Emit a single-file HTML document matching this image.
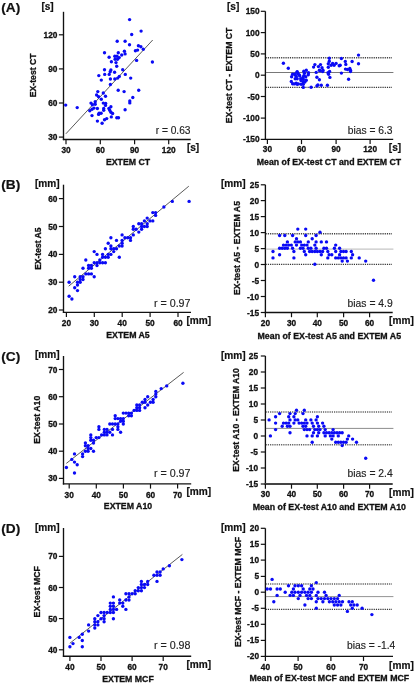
<!DOCTYPE html>
<html><head><meta charset="utf-8"><title>Figure</title>
<style>
html,body{margin:0;padding:0;background:#fff;}
svg{display:block;font-family:"Liberation Sans", Arial, sans-serif;}
</style></head><body>
<svg width="415" height="685" viewBox="0 0 415 685">
<rect width="415" height="685" fill="#fff"/>
<line x1="63.5" y1="11.8" x2="63.5" y2="140.15" stroke="#111" stroke-width="1.35"/>
<line x1="62.85" y1="139.5" x2="190.7" y2="139.5" stroke="#111" stroke-width="1.35"/>
<line x1="58.9" y1="34.8" x2="63.5" y2="34.8" stroke="#111" stroke-width="1.2"/>
<text x="57.4" y="37.8" font-size="8.3" font-weight="bold" text-anchor="end" fill="#111" stroke="#111" stroke-width="0.3">120</text>
<line x1="58.9" y1="68.9" x2="63.5" y2="68.9" stroke="#111" stroke-width="1.2"/>
<text x="57.4" y="71.9" font-size="8.3" font-weight="bold" text-anchor="end" fill="#111" stroke="#111" stroke-width="0.3">90</text>
<line x1="58.9" y1="103.0" x2="63.5" y2="103.0" stroke="#111" stroke-width="1.2"/>
<text x="57.4" y="106.0" font-size="8.3" font-weight="bold" text-anchor="end" fill="#111" stroke="#111" stroke-width="0.3">60</text>
<line x1="58.9" y1="137.1" x2="63.5" y2="137.1" stroke="#111" stroke-width="1.2"/>
<text x="57.4" y="140.1" font-size="8.3" font-weight="bold" text-anchor="end" fill="#111" stroke="#111" stroke-width="0.3">30</text>
<line x1="66.0" y1="139.5" x2="66.0" y2="144.2" stroke="#111" stroke-width="1.2"/>
<text x="66.0" y="152.5" font-size="8.3" font-weight="bold" text-anchor="middle" fill="#111" stroke="#111" stroke-width="0.3">30</text>
<line x1="100.3" y1="139.5" x2="100.3" y2="144.2" stroke="#111" stroke-width="1.2"/>
<text x="100.3" y="152.5" font-size="8.3" font-weight="bold" text-anchor="middle" fill="#111" stroke="#111" stroke-width="0.3">60</text>
<line x1="134.6" y1="139.5" x2="134.6" y2="144.2" stroke="#111" stroke-width="1.2"/>
<text x="134.6" y="152.5" font-size="8.3" font-weight="bold" text-anchor="middle" fill="#111" stroke="#111" stroke-width="0.3">90</text>
<line x1="168.7" y1="139.5" x2="168.7" y2="144.2" stroke="#111" stroke-width="1.2"/>
<text x="168.7" y="152.5" font-size="8.3" font-weight="bold" text-anchor="middle" fill="#111" stroke="#111" stroke-width="0.3">120</text>
<line x1="65.9" y1="133.8" x2="152.7" y2="40.0" stroke="#222" stroke-width="0.75"/>
<circle cx="129.6" cy="19.6" r="1.68" fill="#0a0af5"/>
<circle cx="131.7" cy="34.5" r="1.68" fill="#0a0af5"/>
<circle cx="117.2" cy="41.2" r="1.68" fill="#0a0af5"/>
<circle cx="125.1" cy="41.2" r="1.68" fill="#0a0af5"/>
<circle cx="129.5" cy="44.7" r="1.68" fill="#0a0af5"/>
<circle cx="104.5" cy="52.8" r="1.68" fill="#0a0af5"/>
<circle cx="118.3" cy="52.8" r="1.68" fill="#0a0af5"/>
<circle cx="124.4" cy="51.3" r="1.68" fill="#0a0af5"/>
<circle cx="125.1" cy="53.9" r="1.68" fill="#0a0af5"/>
<circle cx="121.7" cy="55.0" r="1.68" fill="#0a0af5"/>
<circle cx="109.1" cy="57.2" r="1.68" fill="#0a0af5"/>
<circle cx="114.8" cy="56.2" r="1.68" fill="#0a0af5"/>
<circle cx="117.0" cy="56.2" r="1.68" fill="#0a0af5"/>
<circle cx="119.2" cy="57.6" r="1.68" fill="#0a0af5"/>
<circle cx="117.5" cy="59.3" r="1.68" fill="#0a0af5"/>
<circle cx="115.1" cy="59.3" r="1.68" fill="#0a0af5"/>
<circle cx="111.4" cy="61.8" r="1.68" fill="#0a0af5"/>
<circle cx="116.0" cy="62.6" r="1.68" fill="#0a0af5"/>
<circle cx="116.7" cy="66.2" r="1.68" fill="#0a0af5"/>
<circle cx="141.1" cy="31.1" r="1.68" fill="#0a0af5"/>
<circle cx="138.4" cy="45.8" r="1.68" fill="#0a0af5"/>
<circle cx="140.9" cy="46.8" r="1.68" fill="#0a0af5"/>
<circle cx="143.3" cy="49.3" r="1.68" fill="#0a0af5"/>
<circle cx="135.4" cy="50.8" r="1.68" fill="#0a0af5"/>
<circle cx="137.6" cy="50.1" r="1.68" fill="#0a0af5"/>
<circle cx="136.6" cy="60.4" r="1.68" fill="#0a0af5"/>
<circle cx="152.4" cy="62.0" r="1.68" fill="#0a0af5"/>
<circle cx="104.5" cy="69.7" r="1.68" fill="#0a0af5"/>
<circle cx="110.9" cy="70.0" r="1.68" fill="#0a0af5"/>
<circle cx="110.2" cy="71.7" r="1.68" fill="#0a0af5"/>
<circle cx="122.7" cy="69.7" r="1.68" fill="#0a0af5"/>
<circle cx="114.6" cy="72.2" r="1.68" fill="#0a0af5"/>
<circle cx="104.7" cy="74.4" r="1.68" fill="#0a0af5"/>
<circle cx="109.2" cy="74.4" r="1.68" fill="#0a0af5"/>
<circle cx="98.8" cy="75.6" r="1.68" fill="#0a0af5"/>
<circle cx="125.3" cy="74.4" r="1.68" fill="#0a0af5"/>
<circle cx="119.3" cy="76.4" r="1.68" fill="#0a0af5"/>
<circle cx="117.7" cy="78.1" r="1.68" fill="#0a0af5"/>
<circle cx="110.4" cy="79.0" r="1.68" fill="#0a0af5"/>
<circle cx="114.8" cy="79.0" r="1.68" fill="#0a0af5"/>
<circle cx="101.3" cy="80.1" r="1.68" fill="#0a0af5"/>
<circle cx="130.7" cy="78.1" r="1.68" fill="#0a0af5"/>
<circle cx="110.4" cy="84.5" r="1.68" fill="#0a0af5"/>
<circle cx="118.2" cy="90.3" r="1.68" fill="#0a0af5"/>
<circle cx="124.1" cy="91.6" r="1.68" fill="#0a0af5"/>
<circle cx="97.8" cy="91.6" r="1.68" fill="#0a0af5"/>
<circle cx="103.3" cy="93.0" r="1.68" fill="#0a0af5"/>
<circle cx="96.6" cy="95.0" r="1.68" fill="#0a0af5"/>
<circle cx="98.6" cy="96.7" r="1.68" fill="#0a0af5"/>
<circle cx="105.5" cy="96.2" r="1.68" fill="#0a0af5"/>
<circle cx="101.3" cy="99.2" r="1.68" fill="#0a0af5"/>
<circle cx="129.8" cy="100.9" r="1.68" fill="#0a0af5"/>
<circle cx="129.8" cy="102.9" r="1.68" fill="#0a0af5"/>
<circle cx="95.2" cy="101.7" r="1.68" fill="#0a0af5"/>
<circle cx="91.0" cy="103.1" r="1.68" fill="#0a0af5"/>
<circle cx="92.4" cy="104.8" r="1.68" fill="#0a0af5"/>
<circle cx="95.2" cy="104.3" r="1.68" fill="#0a0af5"/>
<circle cx="103.3" cy="103.1" r="1.68" fill="#0a0af5"/>
<circle cx="105.7" cy="103.4" r="1.68" fill="#0a0af5"/>
<circle cx="105.5" cy="105.4" r="1.68" fill="#0a0af5"/>
<circle cx="65.7" cy="105.1" r="1.68" fill="#0a0af5"/>
<circle cx="77.2" cy="107.6" r="1.68" fill="#0a0af5"/>
<circle cx="110.9" cy="106.8" r="1.68" fill="#0a0af5"/>
<circle cx="108.9" cy="108.5" r="1.68" fill="#0a0af5"/>
<circle cx="109.7" cy="110.2" r="1.68" fill="#0a0af5"/>
<circle cx="103.7" cy="108.5" r="1.68" fill="#0a0af5"/>
<circle cx="103.7" cy="110.2" r="1.68" fill="#0a0af5"/>
<circle cx="125.1" cy="109.7" r="1.68" fill="#0a0af5"/>
<circle cx="94.0" cy="108.1" r="1.68" fill="#0a0af5"/>
<circle cx="97.4" cy="108.5" r="1.68" fill="#0a0af5"/>
<circle cx="92.0" cy="109.3" r="1.68" fill="#0a0af5"/>
<circle cx="89.8" cy="110.7" r="1.68" fill="#0a0af5"/>
<circle cx="110.9" cy="112.2" r="1.68" fill="#0a0af5"/>
<circle cx="112.6" cy="113.5" r="1.68" fill="#0a0af5"/>
<circle cx="99.1" cy="113.2" r="1.68" fill="#0a0af5"/>
<circle cx="101.1" cy="113.2" r="1.68" fill="#0a0af5"/>
<circle cx="98.6" cy="114.4" r="1.68" fill="#0a0af5"/>
<circle cx="92.0" cy="115.6" r="1.68" fill="#0a0af5"/>
<circle cx="111.3" cy="116.9" r="1.68" fill="#0a0af5"/>
<circle cx="116.8" cy="117.8" r="1.68" fill="#0a0af5"/>
<circle cx="118.5" cy="117.8" r="1.68" fill="#0a0af5"/>
<circle cx="106.7" cy="118.6" r="1.68" fill="#0a0af5"/>
<circle cx="104.5" cy="119.8" r="1.68" fill="#0a0af5"/>
<circle cx="97.4" cy="121.1" r="1.68" fill="#0a0af5"/>
<circle cx="102.1" cy="123.3" r="1.68" fill="#0a0af5"/>
<circle cx="138.7" cy="90.3" r="1.68" fill="#0a0af5"/>
<circle cx="132.8" cy="97.5" r="1.68" fill="#0a0af5"/>
<text x="36.3" y="75.3" font-size="8.7" font-weight="bold" text-anchor="middle" fill="#111" stroke="#111" stroke-width="0.3" transform="rotate(-90 36.3 75.3)">EX-test CT</text>
<text x="128" y="164.6" font-size="8.75" font-weight="bold" text-anchor="middle" fill="#111" stroke="#111" stroke-width="0.3">EXTEM CT</text>
<text x="41.4" y="9.8" font-size="10.1" font-weight="bold" text-anchor="start" fill="#111" stroke="#111" stroke-width="0.2">[s]</text>
<text x="186.9" y="150.8" font-size="10.1" font-weight="bold" text-anchor="start" fill="#111" stroke="#111" stroke-width="0.2">[s]</text>
<text x="190.5" y="133.8" font-size="10.2" font-weight="normal" text-anchor="end" fill="#222" stroke="#222" stroke-width="0.15">r = 0.63</text>
<text x="1.2" y="12.2" font-size="13.7" font-weight="bold" text-anchor="start" fill="#111" stroke="#111" stroke-width="0.2">(A)</text>
<line x1="265.4" y1="11.3" x2="265.4" y2="140.05" stroke="#111" stroke-width="1.35"/>
<line x1="264.75" y1="139.4" x2="393.2" y2="139.4" stroke="#111" stroke-width="1.35"/>
<line x1="260.79999999999995" y1="11.3" x2="265.4" y2="11.3" stroke="#111" stroke-width="1.2"/>
<text x="259.5" y="14.3" font-size="8.3" font-weight="bold" text-anchor="end" fill="#111" stroke="#111" stroke-width="0.3">150</text>
<line x1="260.79999999999995" y1="32.6" x2="265.4" y2="32.6" stroke="#111" stroke-width="1.2"/>
<text x="259.5" y="35.6" font-size="8.3" font-weight="bold" text-anchor="end" fill="#111" stroke="#111" stroke-width="0.3">100</text>
<line x1="260.79999999999995" y1="53.9" x2="265.4" y2="53.9" stroke="#111" stroke-width="1.2"/>
<text x="259.5" y="56.9" font-size="8.3" font-weight="bold" text-anchor="end" fill="#111" stroke="#111" stroke-width="0.3">50</text>
<line x1="260.79999999999995" y1="75.2" x2="265.4" y2="75.2" stroke="#111" stroke-width="1.2"/>
<text x="259.5" y="78.2" font-size="8.3" font-weight="bold" text-anchor="end" fill="#111" stroke="#111" stroke-width="0.3">0</text>
<line x1="260.79999999999995" y1="96.5" x2="265.4" y2="96.5" stroke="#111" stroke-width="1.2"/>
<text x="259.5" y="99.5" font-size="8.3" font-weight="bold" text-anchor="end" fill="#111" stroke="#111" stroke-width="0.3">-50</text>
<line x1="260.79999999999995" y1="118.1" x2="265.4" y2="118.1" stroke="#111" stroke-width="1.2"/>
<text x="259.5" y="121.1" font-size="8.3" font-weight="bold" text-anchor="end" fill="#111" stroke="#111" stroke-width="0.3">-100</text>
<line x1="260.79999999999995" y1="139.4" x2="265.4" y2="139.4" stroke="#111" stroke-width="1.2"/>
<text x="259.5" y="142.4" font-size="8.3" font-weight="bold" text-anchor="end" fill="#111" stroke="#111" stroke-width="0.3">-150</text>
<line x1="267.4" y1="139.4" x2="267.4" y2="144.1" stroke="#111" stroke-width="1.2"/>
<text x="267.4" y="152.4" font-size="8.3" font-weight="bold" text-anchor="middle" fill="#111" stroke="#111" stroke-width="0.3">30</text>
<line x1="301.5" y1="139.4" x2="301.5" y2="144.1" stroke="#111" stroke-width="1.2"/>
<text x="301.5" y="152.4" font-size="8.3" font-weight="bold" text-anchor="middle" fill="#111" stroke="#111" stroke-width="0.3">60</text>
<line x1="336.1" y1="139.4" x2="336.1" y2="144.1" stroke="#111" stroke-width="1.2"/>
<text x="336.1" y="152.4" font-size="8.3" font-weight="bold" text-anchor="middle" fill="#111" stroke="#111" stroke-width="0.3">90</text>
<line x1="370.1" y1="139.4" x2="370.1" y2="144.1" stroke="#111" stroke-width="1.2"/>
<text x="370.1" y="152.4" font-size="8.3" font-weight="bold" text-anchor="middle" fill="#111" stroke="#111" stroke-width="0.3">120</text>
<line x1="266.29999999999995" y1="57.7" x2="392.2" y2="57.7" stroke="#222" stroke-width="1.6" stroke-dasharray="0.85 0.98"/>
<line x1="265.9" y1="72.5" x2="393.4" y2="72.5" stroke="#555" stroke-width="0.8"/>
<line x1="266.29999999999995" y1="87.4" x2="392.2" y2="87.4" stroke="#111" stroke-width="1.1" stroke-dasharray="0.85 0.98"/>
<circle cx="283.4" cy="63.3" r="1.68" fill="#0a0af5"/>
<circle cx="288.3" cy="68.3" r="1.68" fill="#0a0af5"/>
<circle cx="314.9" cy="64.6" r="1.68" fill="#0a0af5"/>
<circle cx="320.5" cy="64.6" r="1.68" fill="#0a0af5"/>
<circle cx="313.6" cy="67.1" r="1.68" fill="#0a0af5"/>
<circle cx="318.4" cy="66.6" r="1.68" fill="#0a0af5"/>
<circle cx="322.0" cy="67.7" r="1.68" fill="#0a0af5"/>
<circle cx="319.4" cy="70.2" r="1.68" fill="#0a0af5"/>
<circle cx="323.0" cy="70.2" r="1.68" fill="#0a0af5"/>
<circle cx="316.2" cy="72.4" r="1.68" fill="#0a0af5"/>
<circle cx="306.3" cy="70.2" r="1.68" fill="#0a0af5"/>
<circle cx="303.8" cy="71.2" r="1.68" fill="#0a0af5"/>
<circle cx="297.2" cy="71.7" r="1.68" fill="#0a0af5"/>
<circle cx="308.5" cy="72.7" r="1.68" fill="#0a0af5"/>
<circle cx="308.3" cy="74.7" r="1.68" fill="#0a0af5"/>
<circle cx="304.5" cy="73.2" r="1.68" fill="#0a0af5"/>
<circle cx="298.2" cy="73.7" r="1.68" fill="#0a0af5"/>
<circle cx="292.6" cy="74.2" r="1.68" fill="#0a0af5"/>
<circle cx="295.2" cy="74.7" r="1.68" fill="#0a0af5"/>
<circle cx="291.6" cy="76.8" r="1.68" fill="#0a0af5"/>
<circle cx="296.2" cy="76.3" r="1.68" fill="#0a0af5"/>
<circle cx="299.7" cy="75.7" r="1.68" fill="#0a0af5"/>
<circle cx="303.8" cy="75.7" r="1.68" fill="#0a0af5"/>
<circle cx="305.8" cy="76.8" r="1.68" fill="#0a0af5"/>
<circle cx="295.2" cy="78.8" r="1.68" fill="#0a0af5"/>
<circle cx="297.2" cy="78.8" r="1.68" fill="#0a0af5"/>
<circle cx="300.7" cy="78.8" r="1.68" fill="#0a0af5"/>
<circle cx="303.3" cy="79.3" r="1.68" fill="#0a0af5"/>
<circle cx="306.3" cy="80.3" r="1.68" fill="#0a0af5"/>
<circle cx="316.9" cy="77.3" r="1.68" fill="#0a0af5"/>
<circle cx="319.4" cy="79.8" r="1.68" fill="#0a0af5"/>
<circle cx="291.3" cy="81.5" r="1.68" fill="#0a0af5"/>
<circle cx="303.3" cy="81.8" r="1.68" fill="#0a0af5"/>
<circle cx="292.6" cy="83.8" r="1.68" fill="#0a0af5"/>
<circle cx="296.2" cy="83.3" r="1.68" fill="#0a0af5"/>
<circle cx="297.2" cy="84.3" r="1.68" fill="#0a0af5"/>
<circle cx="301.2" cy="84.3" r="1.68" fill="#0a0af5"/>
<circle cx="303.3" cy="84.3" r="1.68" fill="#0a0af5"/>
<circle cx="303.3" cy="87.4" r="1.68" fill="#0a0af5"/>
<circle cx="311.1" cy="87.2" r="1.68" fill="#0a0af5"/>
<circle cx="316.9" cy="85.9" r="1.68" fill="#0a0af5"/>
<circle cx="317.9" cy="84.9" r="1.68" fill="#0a0af5"/>
<circle cx="321.3" cy="85.2" r="1.68" fill="#0a0af5"/>
<circle cx="358.5" cy="55.1" r="1.68" fill="#0a0af5"/>
<circle cx="329.3" cy="58.2" r="1.68" fill="#0a0af5"/>
<circle cx="341.4" cy="58.5" r="1.68" fill="#0a0af5"/>
<circle cx="329.3" cy="61.2" r="1.68" fill="#0a0af5"/>
<circle cx="345.3" cy="61.4" r="1.68" fill="#0a0af5"/>
<circle cx="352.1" cy="61.5" r="1.68" fill="#0a0af5"/>
<circle cx="358.5" cy="63.7" r="1.68" fill="#0a0af5"/>
<circle cx="328.3" cy="63.7" r="1.68" fill="#0a0af5"/>
<circle cx="332.6" cy="63.4" r="1.68" fill="#0a0af5"/>
<circle cx="336.1" cy="63.4" r="1.68" fill="#0a0af5"/>
<circle cx="331.1" cy="65.2" r="1.68" fill="#0a0af5"/>
<circle cx="334.1" cy="65.2" r="1.68" fill="#0a0af5"/>
<circle cx="339.2" cy="65.7" r="1.68" fill="#0a0af5"/>
<circle cx="340.2" cy="65.2" r="1.68" fill="#0a0af5"/>
<circle cx="345.8" cy="64.4" r="1.68" fill="#0a0af5"/>
<circle cx="328.3" cy="67.3" r="1.68" fill="#0a0af5"/>
<circle cx="345.5" cy="69.1" r="1.68" fill="#0a0af5"/>
<circle cx="347.5" cy="69.5" r="1.68" fill="#0a0af5"/>
<circle cx="349.8" cy="68.5" r="1.68" fill="#0a0af5"/>
<circle cx="350.5" cy="70.3" r="1.68" fill="#0a0af5"/>
<circle cx="350.5" cy="71.5" r="1.68" fill="#0a0af5"/>
<circle cx="329.6" cy="71.5" r="1.68" fill="#0a0af5"/>
<circle cx="328.0" cy="72.8" r="1.68" fill="#0a0af5"/>
<circle cx="341.4" cy="73.1" r="1.68" fill="#0a0af5"/>
<circle cx="328.6" cy="74.3" r="1.68" fill="#0a0af5"/>
<circle cx="329.9" cy="77.4" r="1.68" fill="#0a0af5"/>
<circle cx="348.6" cy="79.2" r="1.68" fill="#0a0af5"/>
<circle cx="327.4" cy="85.2" r="1.68" fill="#0a0af5"/>
<circle cx="294.5" cy="74.1" r="1.68" fill="#0a0af5"/>
<circle cx="299.3" cy="75" r="1.68" fill="#0a0af5"/>
<circle cx="302.9" cy="77.5" r="1.68" fill="#0a0af5"/>
<circle cx="304.9" cy="82" r="1.68" fill="#0a0af5"/>
<circle cx="294.3" cy="83.9" r="1.68" fill="#0a0af5"/>
<circle cx="298.4" cy="83.9" r="1.68" fill="#0a0af5"/>
<circle cx="320.1" cy="70.7" r="1.68" fill="#0a0af5"/>
<circle cx="322.7" cy="71.5" r="1.68" fill="#0a0af5"/>
<circle cx="297" cy="72.3" r="1.68" fill="#0a0af5"/>
<circle cx="301" cy="80.5" r="1.68" fill="#0a0af5"/>
<text x="232.1" y="75.4" font-size="8.7" font-weight="bold" text-anchor="middle" fill="#111" stroke="#111" stroke-width="0.3" transform="rotate(-90 232.1 75.4)">EX-test CT - EXTEM CT</text>
<text x="329" y="164.6" font-size="8.75" font-weight="bold" text-anchor="middle" fill="#111" stroke="#111" stroke-width="0.3">Mean of EX-test CT and EXTEM CT</text>
<text x="227" y="9.8" font-size="10.1" font-weight="bold" text-anchor="start" fill="#111" stroke="#111" stroke-width="0.2">[s]</text>
<text x="388.8" y="150.8" font-size="10.1" font-weight="bold" text-anchor="start" fill="#111" stroke="#111" stroke-width="0.2">[s]</text>
<text x="392.5" y="133.8" font-size="10.25" font-weight="normal" text-anchor="end" fill="#222" stroke="#222" stroke-width="0.15">bias = 6.3</text>
<line x1="63.5" y1="184.7" x2="63.5" y2="312.95" stroke="#111" stroke-width="1.35"/>
<line x1="62.85" y1="312.3" x2="191.0" y2="312.3" stroke="#111" stroke-width="1.35"/>
<line x1="58.9" y1="198.6" x2="63.5" y2="198.6" stroke="#111" stroke-width="1.2"/>
<text x="57.4" y="201.6" font-size="8.3" font-weight="bold" text-anchor="end" fill="#111" stroke="#111" stroke-width="0.3">60</text>
<line x1="58.9" y1="226.5" x2="63.5" y2="226.5" stroke="#111" stroke-width="1.2"/>
<text x="57.4" y="229.5" font-size="8.3" font-weight="bold" text-anchor="end" fill="#111" stroke="#111" stroke-width="0.3">50</text>
<line x1="58.9" y1="254.4" x2="63.5" y2="254.4" stroke="#111" stroke-width="1.2"/>
<text x="57.4" y="257.4" font-size="8.3" font-weight="bold" text-anchor="end" fill="#111" stroke="#111" stroke-width="0.3">40</text>
<line x1="58.9" y1="282.2" x2="63.5" y2="282.2" stroke="#111" stroke-width="1.2"/>
<text x="57.4" y="285.2" font-size="8.3" font-weight="bold" text-anchor="end" fill="#111" stroke="#111" stroke-width="0.3">30</text>
<line x1="58.9" y1="310.0" x2="63.5" y2="310.0" stroke="#111" stroke-width="1.2"/>
<text x="57.4" y="313.0" font-size="8.3" font-weight="bold" text-anchor="end" fill="#111" stroke="#111" stroke-width="0.3">20</text>
<line x1="66.4" y1="312.3" x2="66.4" y2="317.0" stroke="#111" stroke-width="1.2"/>
<text x="66.4" y="326.3" font-size="8.3" font-weight="bold" text-anchor="middle" fill="#111" stroke="#111" stroke-width="0.3">20</text>
<line x1="94.3" y1="312.3" x2="94.3" y2="317.0" stroke="#111" stroke-width="1.2"/>
<text x="94.3" y="326.3" font-size="8.3" font-weight="bold" text-anchor="middle" fill="#111" stroke="#111" stroke-width="0.3">30</text>
<line x1="122.2" y1="312.3" x2="122.2" y2="317.0" stroke="#111" stroke-width="1.2"/>
<text x="122.2" y="326.3" font-size="8.3" font-weight="bold" text-anchor="middle" fill="#111" stroke="#111" stroke-width="0.3">40</text>
<line x1="150.1" y1="312.3" x2="150.1" y2="317.0" stroke="#111" stroke-width="1.2"/>
<text x="150.1" y="326.3" font-size="8.3" font-weight="bold" text-anchor="middle" fill="#111" stroke="#111" stroke-width="0.3">50</text>
<line x1="178.0" y1="312.3" x2="178.0" y2="317.0" stroke="#111" stroke-width="1.2"/>
<text x="178.0" y="326.3" font-size="8.3" font-weight="bold" text-anchor="middle" fill="#111" stroke="#111" stroke-width="0.3">60</text>
<line x1="68.7" y1="286.2" x2="188.8" y2="186.2" stroke="#222" stroke-width="0.75"/>
<circle cx="163.9" cy="207.0" r="1.68" fill="#0a0af5"/>
<circle cx="99.8" cy="262.7" r="1.68" fill="#0a0af5"/>
<circle cx="150.0" cy="220.9" r="1.68" fill="#0a0af5"/>
<circle cx="80.2" cy="276.7" r="1.68" fill="#0a0af5"/>
<circle cx="130.5" cy="237.7" r="1.68" fill="#0a0af5"/>
<circle cx="138.8" cy="232.1" r="1.68" fill="#0a0af5"/>
<circle cx="105.4" cy="262.7" r="1.68" fill="#0a0af5"/>
<circle cx="147.2" cy="218.1" r="1.68" fill="#0a0af5"/>
<circle cx="113.7" cy="248.8" r="1.68" fill="#0a0af5"/>
<circle cx="110.9" cy="237.7" r="1.68" fill="#0a0af5"/>
<circle cx="83.0" cy="276.7" r="1.68" fill="#0a0af5"/>
<circle cx="133.3" cy="234.9" r="1.68" fill="#0a0af5"/>
<circle cx="108.2" cy="243.2" r="1.68" fill="#0a0af5"/>
<circle cx="122.1" cy="246.0" r="1.68" fill="#0a0af5"/>
<circle cx="97.0" cy="254.4" r="1.68" fill="#0a0af5"/>
<circle cx="94.2" cy="251.6" r="1.68" fill="#0a0af5"/>
<circle cx="102.6" cy="254.4" r="1.68" fill="#0a0af5"/>
<circle cx="133.3" cy="229.3" r="1.68" fill="#0a0af5"/>
<circle cx="91.4" cy="265.5" r="1.68" fill="#0a0af5"/>
<circle cx="122.1" cy="240.4" r="1.68" fill="#0a0af5"/>
<circle cx="85.8" cy="260.0" r="1.68" fill="#0a0af5"/>
<circle cx="141.6" cy="226.5" r="1.68" fill="#0a0af5"/>
<circle cx="77.5" cy="282.2" r="1.68" fill="#0a0af5"/>
<circle cx="69.1" cy="296.2" r="1.68" fill="#0a0af5"/>
<circle cx="119.3" cy="257.2" r="1.68" fill="#0a0af5"/>
<circle cx="147.2" cy="226.5" r="1.68" fill="#0a0af5"/>
<circle cx="122.1" cy="234.9" r="1.68" fill="#0a0af5"/>
<circle cx="110.9" cy="246.0" r="1.68" fill="#0a0af5"/>
<circle cx="189.1" cy="201.4" r="1.68" fill="#0a0af5"/>
<circle cx="80.2" cy="279.5" r="1.68" fill="#0a0af5"/>
<circle cx="152.8" cy="220.9" r="1.68" fill="#0a0af5"/>
<circle cx="97.0" cy="262.7" r="1.68" fill="#0a0af5"/>
<circle cx="105.4" cy="257.2" r="1.68" fill="#0a0af5"/>
<circle cx="85.8" cy="273.9" r="1.68" fill="#0a0af5"/>
<circle cx="102.6" cy="262.7" r="1.68" fill="#0a0af5"/>
<circle cx="91.4" cy="273.9" r="1.68" fill="#0a0af5"/>
<circle cx="116.5" cy="240.4" r="1.68" fill="#0a0af5"/>
<circle cx="124.9" cy="237.7" r="1.68" fill="#0a0af5"/>
<circle cx="108.2" cy="257.2" r="1.68" fill="#0a0af5"/>
<circle cx="155.6" cy="212.6" r="1.68" fill="#0a0af5"/>
<circle cx="91.4" cy="268.3" r="1.68" fill="#0a0af5"/>
<circle cx="138.8" cy="223.7" r="1.68" fill="#0a0af5"/>
<circle cx="74.7" cy="287.8" r="1.68" fill="#0a0af5"/>
<circle cx="122.1" cy="243.2" r="1.68" fill="#0a0af5"/>
<circle cx="110.9" cy="254.4" r="1.68" fill="#0a0af5"/>
<circle cx="88.6" cy="265.5" r="1.68" fill="#0a0af5"/>
<circle cx="141.6" cy="229.3" r="1.68" fill="#0a0af5"/>
<circle cx="130.5" cy="240.4" r="1.68" fill="#0a0af5"/>
<circle cx="110.9" cy="248.8" r="1.68" fill="#0a0af5"/>
<circle cx="113.7" cy="251.6" r="1.68" fill="#0a0af5"/>
<circle cx="141.6" cy="223.7" r="1.68" fill="#0a0af5"/>
<circle cx="99.8" cy="260.0" r="1.68" fill="#0a0af5"/>
<circle cx="83.0" cy="279.5" r="1.68" fill="#0a0af5"/>
<circle cx="116.5" cy="248.8" r="1.68" fill="#0a0af5"/>
<circle cx="119.3" cy="246.0" r="1.68" fill="#0a0af5"/>
<circle cx="94.2" cy="262.7" r="1.68" fill="#0a0af5"/>
<circle cx="77.5" cy="290.6" r="1.68" fill="#0a0af5"/>
<circle cx="172.3" cy="201.4" r="1.68" fill="#0a0af5"/>
<circle cx="102.6" cy="257.2" r="1.68" fill="#0a0af5"/>
<circle cx="88.6" cy="273.9" r="1.68" fill="#0a0af5"/>
<circle cx="136.1" cy="229.3" r="1.68" fill="#0a0af5"/>
<circle cx="77.5" cy="285.0" r="1.68" fill="#0a0af5"/>
<circle cx="152.8" cy="212.6" r="1.68" fill="#0a0af5"/>
<circle cx="83.0" cy="268.3" r="1.68" fill="#0a0af5"/>
<circle cx="155.6" cy="215.4" r="1.68" fill="#0a0af5"/>
<circle cx="133.3" cy="226.5" r="1.68" fill="#0a0af5"/>
<circle cx="69.1" cy="282.2" r="1.68" fill="#0a0af5"/>
<circle cx="144.4" cy="226.5" r="1.68" fill="#0a0af5"/>
<circle cx="105.4" cy="248.8" r="1.68" fill="#0a0af5"/>
<circle cx="88.6" cy="268.3" r="1.68" fill="#0a0af5"/>
<circle cx="94.2" cy="276.7" r="1.68" fill="#0a0af5"/>
<circle cx="80.2" cy="282.2" r="1.68" fill="#0a0af5"/>
<circle cx="127.7" cy="237.7" r="1.68" fill="#0a0af5"/>
<circle cx="108.2" cy="254.4" r="1.68" fill="#0a0af5"/>
<circle cx="71.9" cy="299.0" r="1.68" fill="#0a0af5"/>
<circle cx="97.0" cy="265.5" r="1.68" fill="#0a0af5"/>
<circle cx="144.4" cy="220.9" r="1.68" fill="#0a0af5"/>
<circle cx="74.7" cy="276.7" r="1.68" fill="#0a0af5"/>
<circle cx="147.2" cy="223.7" r="1.68" fill="#0a0af5"/>
<text x="40.9" y="248.7" font-size="8.5" font-weight="bold" text-anchor="middle" fill="#111" stroke="#111" stroke-width="0.3" transform="rotate(-90 40.9 248.7)">EX-test A5</text>
<text x="128" y="337.9" font-size="8.75" font-weight="bold" text-anchor="middle" fill="#111" stroke="#111" stroke-width="0.3">EXTEM A5</text>
<text x="35.0" y="186.9" font-size="10.1" font-weight="bold" text-anchor="start" fill="#111" stroke="#111" stroke-width="0.2">[mm]</text>
<text x="186.5" y="323.9" font-size="10.1" font-weight="bold" text-anchor="start" fill="#111" stroke="#111" stroke-width="0.2">[mm]</text>
<text x="190.5" y="307.0" font-size="10.7" font-weight="normal" text-anchor="end" fill="#222" stroke="#222" stroke-width="0.15">r = 0.97</text>
<text x="1.2" y="189.4" font-size="13.7" font-weight="bold" text-anchor="start" fill="#111" stroke="#111" stroke-width="0.2">(B)</text>
<line x1="265.4" y1="184.8" x2="265.4" y2="313.15" stroke="#111" stroke-width="1.35"/>
<line x1="264.75" y1="312.5" x2="392.7" y2="312.5" stroke="#111" stroke-width="1.35"/>
<line x1="260.79999999999995" y1="184.8" x2="265.4" y2="184.8" stroke="#111" stroke-width="1.2"/>
<text x="259.1" y="187.8" font-size="8.3" font-weight="bold" text-anchor="end" fill="#111" stroke="#111" stroke-width="0.3">25</text>
<line x1="260.79999999999995" y1="200.6" x2="265.4" y2="200.6" stroke="#111" stroke-width="1.2"/>
<text x="259.1" y="203.6" font-size="8.3" font-weight="bold" text-anchor="end" fill="#111" stroke="#111" stroke-width="0.3">20</text>
<line x1="260.79999999999995" y1="216.6" x2="265.4" y2="216.6" stroke="#111" stroke-width="1.2"/>
<text x="259.1" y="219.6" font-size="8.3" font-weight="bold" text-anchor="end" fill="#111" stroke="#111" stroke-width="0.3">15</text>
<line x1="260.79999999999995" y1="232.6" x2="265.4" y2="232.6" stroke="#111" stroke-width="1.2"/>
<text x="259.1" y="235.6" font-size="8.3" font-weight="bold" text-anchor="end" fill="#111" stroke="#111" stroke-width="0.3">10</text>
<line x1="260.79999999999995" y1="248.6" x2="265.4" y2="248.6" stroke="#111" stroke-width="1.2"/>
<text x="259.1" y="251.6" font-size="8.3" font-weight="bold" text-anchor="end" fill="#111" stroke="#111" stroke-width="0.3">5</text>
<line x1="260.79999999999995" y1="264.5" x2="265.4" y2="264.5" stroke="#111" stroke-width="1.2"/>
<text x="259.1" y="267.5" font-size="8.3" font-weight="bold" text-anchor="end" fill="#111" stroke="#111" stroke-width="0.3">0</text>
<line x1="260.79999999999995" y1="280.5" x2="265.4" y2="280.5" stroke="#111" stroke-width="1.2"/>
<text x="259.1" y="283.5" font-size="8.3" font-weight="bold" text-anchor="end" fill="#111" stroke="#111" stroke-width="0.3">-5</text>
<line x1="260.79999999999995" y1="296.5" x2="265.4" y2="296.5" stroke="#111" stroke-width="1.2"/>
<text x="259.1" y="299.5" font-size="8.3" font-weight="bold" text-anchor="end" fill="#111" stroke="#111" stroke-width="0.3">-10</text>
<line x1="260.79999999999995" y1="312.5" x2="265.4" y2="312.5" stroke="#111" stroke-width="1.2"/>
<text x="259.1" y="315.5" font-size="8.3" font-weight="bold" text-anchor="end" fill="#111" stroke="#111" stroke-width="0.3">-15</text>
<line x1="265.4" y1="312.5" x2="265.4" y2="317.2" stroke="#111" stroke-width="1.2"/>
<text x="265.4" y="326.0" font-size="8.3" font-weight="bold" text-anchor="middle" fill="#111" stroke="#111" stroke-width="0.3">20</text>
<line x1="291.5" y1="312.5" x2="291.5" y2="317.2" stroke="#111" stroke-width="1.2"/>
<text x="291.5" y="326.0" font-size="8.3" font-weight="bold" text-anchor="middle" fill="#111" stroke="#111" stroke-width="0.3">30</text>
<line x1="317.3" y1="312.5" x2="317.3" y2="317.2" stroke="#111" stroke-width="1.2"/>
<text x="317.3" y="326.0" font-size="8.3" font-weight="bold" text-anchor="middle" fill="#111" stroke="#111" stroke-width="0.3">40</text>
<line x1="343.6" y1="312.5" x2="343.6" y2="317.2" stroke="#111" stroke-width="1.2"/>
<text x="343.6" y="326.0" font-size="8.3" font-weight="bold" text-anchor="middle" fill="#111" stroke="#111" stroke-width="0.3">50</text>
<line x1="369.6" y1="312.5" x2="369.6" y2="317.2" stroke="#111" stroke-width="1.2"/>
<text x="369.6" y="326.0" font-size="8.3" font-weight="bold" text-anchor="middle" fill="#111" stroke="#111" stroke-width="0.3">60</text>
<line x1="266.29999999999995" y1="233.8" x2="392.2" y2="233.8" stroke="#222" stroke-width="1.6" stroke-dasharray="0.85 0.98"/>
<line x1="265.9" y1="249.1" x2="393.4" y2="249.1" stroke="#c6c6c6" stroke-width="1.1"/>
<line x1="266.29999999999995" y1="264.3" x2="392.2" y2="264.3" stroke="#111" stroke-width="1.2" stroke-dasharray="0.85 0.98"/>
<circle cx="273.0" cy="251.5" r="1.68" fill="#0a0af5"/>
<circle cx="295.2" cy="241.9" r="1.68" fill="#0a0af5"/>
<circle cx="331.8" cy="254.7" r="1.68" fill="#0a0af5"/>
<circle cx="287.4" cy="248.3" r="1.68" fill="#0a0af5"/>
<circle cx="296.5" cy="245.1" r="1.68" fill="#0a0af5"/>
<circle cx="300.4" cy="241.9" r="1.68" fill="#0a0af5"/>
<circle cx="326.5" cy="248.3" r="1.68" fill="#0a0af5"/>
<circle cx="279.6" cy="254.7" r="1.68" fill="#0a0af5"/>
<circle cx="317.4" cy="251.5" r="1.68" fill="#0a0af5"/>
<circle cx="352.6" cy="254.7" r="1.68" fill="#0a0af5"/>
<circle cx="301.7" cy="245.1" r="1.68" fill="#0a0af5"/>
<circle cx="283.5" cy="245.1" r="1.68" fill="#0a0af5"/>
<circle cx="322.6" cy="251.5" r="1.68" fill="#0a0af5"/>
<circle cx="287.4" cy="241.9" r="1.68" fill="#0a0af5"/>
<circle cx="284.8" cy="248.3" r="1.68" fill="#0a0af5"/>
<circle cx="304.3" cy="251.5" r="1.68" fill="#0a0af5"/>
<circle cx="297.8" cy="241.9" r="1.68" fill="#0a0af5"/>
<circle cx="326.5" cy="241.9" r="1.68" fill="#0a0af5"/>
<circle cx="279.6" cy="248.3" r="1.68" fill="#0a0af5"/>
<circle cx="339.6" cy="254.7" r="1.68" fill="#0a0af5"/>
<circle cx="305.7" cy="254.7" r="1.68" fill="#0a0af5"/>
<circle cx="288.7" cy="245.1" r="1.68" fill="#0a0af5"/>
<circle cx="314.8" cy="251.5" r="1.68" fill="#0a0af5"/>
<circle cx="309.6" cy="251.5" r="1.68" fill="#0a0af5"/>
<circle cx="335.7" cy="257.9" r="1.68" fill="#0a0af5"/>
<circle cx="320.0" cy="251.5" r="1.68" fill="#0a0af5"/>
<circle cx="346.1" cy="257.9" r="1.68" fill="#0a0af5"/>
<circle cx="323.9" cy="248.3" r="1.68" fill="#0a0af5"/>
<circle cx="320.0" cy="232.3" r="1.68" fill="#0a0af5"/>
<circle cx="321.3" cy="254.7" r="1.68" fill="#0a0af5"/>
<circle cx="304.3" cy="245.1" r="1.68" fill="#0a0af5"/>
<circle cx="340.9" cy="257.9" r="1.68" fill="#0a0af5"/>
<circle cx="334.4" cy="248.3" r="1.68" fill="#0a0af5"/>
<circle cx="314.8" cy="245.1" r="1.68" fill="#0a0af5"/>
<circle cx="342.2" cy="261.1" r="1.68" fill="#0a0af5"/>
<circle cx="312.2" cy="238.7" r="1.68" fill="#0a0af5"/>
<circle cx="293.9" cy="257.9" r="1.68" fill="#0a0af5"/>
<circle cx="351.3" cy="257.9" r="1.68" fill="#0a0af5"/>
<circle cx="316.1" cy="248.3" r="1.68" fill="#0a0af5"/>
<circle cx="335.7" cy="251.5" r="1.68" fill="#0a0af5"/>
<circle cx="310.9" cy="248.3" r="1.68" fill="#0a0af5"/>
<circle cx="291.3" cy="245.1" r="1.68" fill="#0a0af5"/>
<circle cx="346.1" cy="251.5" r="1.68" fill="#0a0af5"/>
<circle cx="286.1" cy="245.1" r="1.68" fill="#0a0af5"/>
<circle cx="327.8" cy="257.9" r="1.68" fill="#0a0af5"/>
<circle cx="284.8" cy="235.5" r="1.68" fill="#0a0af5"/>
<circle cx="292.6" cy="248.3" r="1.68" fill="#0a0af5"/>
<circle cx="312.2" cy="251.5" r="1.68" fill="#0a0af5"/>
<circle cx="340.9" cy="251.5" r="1.68" fill="#0a0af5"/>
<circle cx="297.8" cy="229.1" r="1.68" fill="#0a0af5"/>
<circle cx="279.6" cy="235.5" r="1.68" fill="#0a0af5"/>
<circle cx="338.3" cy="257.9" r="1.68" fill="#0a0af5"/>
<circle cx="303.0" cy="248.3" r="1.68" fill="#0a0af5"/>
<circle cx="293.9" cy="251.5" r="1.68" fill="#0a0af5"/>
<circle cx="351.3" cy="251.5" r="1.68" fill="#0a0af5"/>
<circle cx="316.1" cy="241.9" r="1.68" fill="#0a0af5"/>
<circle cx="307.0" cy="245.1" r="1.68" fill="#0a0af5"/>
<circle cx="335.7" cy="245.1" r="1.68" fill="#0a0af5"/>
<circle cx="373.5" cy="280.3" r="1.68" fill="#0a0af5"/>
<circle cx="343.5" cy="257.9" r="1.68" fill="#0a0af5"/>
<circle cx="308.3" cy="248.3" r="1.68" fill="#0a0af5"/>
<circle cx="327.8" cy="251.5" r="1.68" fill="#0a0af5"/>
<circle cx="321.3" cy="241.9" r="1.68" fill="#0a0af5"/>
<circle cx="329.1" cy="254.7" r="1.68" fill="#0a0af5"/>
<circle cx="296.5" cy="238.7" r="1.68" fill="#0a0af5"/>
<circle cx="305.7" cy="235.5" r="1.68" fill="#0a0af5"/>
<circle cx="273.0" cy="257.9" r="1.68" fill="#0a0af5"/>
<circle cx="359.2" cy="257.9" r="1.68" fill="#0a0af5"/>
<circle cx="316.1" cy="235.5" r="1.68" fill="#0a0af5"/>
<circle cx="365.7" cy="261.1" r="1.68" fill="#0a0af5"/>
<circle cx="343.5" cy="251.5" r="1.68" fill="#0a0af5"/>
<circle cx="308.3" cy="241.9" r="1.68" fill="#0a0af5"/>
<circle cx="347.4" cy="261.1" r="1.68" fill="#0a0af5"/>
<circle cx="292.6" cy="235.5" r="1.68" fill="#0a0af5"/>
<circle cx="300.4" cy="248.3" r="1.68" fill="#0a0af5"/>
<circle cx="305.7" cy="229.1" r="1.68" fill="#0a0af5"/>
<circle cx="314.8" cy="264.3" r="1.68" fill="#0a0af5"/>
<circle cx="282.2" cy="248.3" r="1.68" fill="#0a0af5"/>
<circle cx="339.6" cy="248.3" r="1.68" fill="#0a0af5"/>
<text x="240" y="248" font-size="8.7" font-weight="bold" text-anchor="middle" fill="#111" stroke="#111" stroke-width="0.3" transform="rotate(-90 240 248)">EX-test A5 - EXTEM A5</text>
<text x="329.3" y="338.6" font-size="8.8" font-weight="bold" text-anchor="middle" fill="#111" stroke="#111" stroke-width="0.3">Mean of EX-test A5 and EXTEM A5</text>
<text x="221" y="186.5" font-size="10.1" font-weight="bold" text-anchor="start" fill="#111" stroke="#111" stroke-width="0.2">[mm]</text>
<text x="389.1" y="323.8" font-size="10.1" font-weight="bold" text-anchor="start" fill="#111" stroke="#111" stroke-width="0.2">[mm]</text>
<text x="392.7" y="307.0" font-size="10.35" font-weight="normal" text-anchor="end" fill="#222" stroke="#222" stroke-width="0.15">bias = 4.9</text>
<line x1="63.5" y1="356.0" x2="63.5" y2="484.54999999999995" stroke="#111" stroke-width="1.35"/>
<line x1="62.85" y1="483.9" x2="191.2" y2="483.9" stroke="#111" stroke-width="1.35"/>
<line x1="58.9" y1="369.5" x2="63.5" y2="369.5" stroke="#111" stroke-width="1.2"/>
<text x="57.4" y="372.5" font-size="8.3" font-weight="bold" text-anchor="end" fill="#111" stroke="#111" stroke-width="0.3">70</text>
<line x1="58.9" y1="396.7" x2="63.5" y2="396.7" stroke="#111" stroke-width="1.2"/>
<text x="57.4" y="399.7" font-size="8.3" font-weight="bold" text-anchor="end" fill="#111" stroke="#111" stroke-width="0.3">60</text>
<line x1="58.9" y1="424.0" x2="63.5" y2="424.0" stroke="#111" stroke-width="1.2"/>
<text x="57.4" y="427.0" font-size="8.3" font-weight="bold" text-anchor="end" fill="#111" stroke="#111" stroke-width="0.3">50</text>
<line x1="58.9" y1="451.2" x2="63.5" y2="451.2" stroke="#111" stroke-width="1.2"/>
<text x="57.4" y="454.2" font-size="8.3" font-weight="bold" text-anchor="end" fill="#111" stroke="#111" stroke-width="0.3">40</text>
<line x1="58.9" y1="478.4" x2="63.5" y2="478.4" stroke="#111" stroke-width="1.2"/>
<text x="57.4" y="481.4" font-size="8.3" font-weight="bold" text-anchor="end" fill="#111" stroke="#111" stroke-width="0.3">30</text>
<line x1="69.2" y1="483.9" x2="69.2" y2="488.59999999999997" stroke="#111" stroke-width="1.2"/>
<text x="69.2" y="497.6" font-size="8.3" font-weight="bold" text-anchor="middle" fill="#111" stroke="#111" stroke-width="0.3">30</text>
<line x1="96.3" y1="483.9" x2="96.3" y2="488.59999999999997" stroke="#111" stroke-width="1.2"/>
<text x="96.3" y="497.6" font-size="8.3" font-weight="bold" text-anchor="middle" fill="#111" stroke="#111" stroke-width="0.3">40</text>
<line x1="123.4" y1="483.9" x2="123.4" y2="488.59999999999997" stroke="#111" stroke-width="1.2"/>
<text x="123.4" y="497.6" font-size="8.3" font-weight="bold" text-anchor="middle" fill="#111" stroke="#111" stroke-width="0.3">50</text>
<line x1="150.5" y1="483.9" x2="150.5" y2="488.59999999999997" stroke="#111" stroke-width="1.2"/>
<text x="150.5" y="497.6" font-size="8.3" font-weight="bold" text-anchor="middle" fill="#111" stroke="#111" stroke-width="0.3">60</text>
<line x1="177.6" y1="483.9" x2="177.6" y2="488.59999999999997" stroke="#111" stroke-width="1.2"/>
<text x="177.6" y="497.6" font-size="8.3" font-weight="bold" text-anchor="middle" fill="#111" stroke="#111" stroke-width="0.3">70</text>
<line x1="66.3" y1="463.4" x2="183.6" y2="372.4" stroke="#222" stroke-width="0.75"/>
<circle cx="136.8" cy="405.0" r="1.68" fill="#0a0af5"/>
<circle cx="145.0" cy="407.7" r="1.68" fill="#0a0af5"/>
<circle cx="115.2" cy="415.8" r="1.68" fill="#0a0af5"/>
<circle cx="123.3" cy="418.6" r="1.68" fill="#0a0af5"/>
<circle cx="98.9" cy="426.7" r="1.68" fill="#0a0af5"/>
<circle cx="104.3" cy="434.9" r="1.68" fill="#0a0af5"/>
<circle cx="112.5" cy="429.4" r="1.68" fill="#0a0af5"/>
<circle cx="90.8" cy="440.3" r="1.68" fill="#0a0af5"/>
<circle cx="88.1" cy="445.8" r="1.68" fill="#0a0af5"/>
<circle cx="74.5" cy="453.9" r="1.68" fill="#0a0af5"/>
<circle cx="145.0" cy="402.2" r="1.68" fill="#0a0af5"/>
<circle cx="147.7" cy="405.0" r="1.68" fill="#0a0af5"/>
<circle cx="123.3" cy="413.1" r="1.68" fill="#0a0af5"/>
<circle cx="107.0" cy="432.2" r="1.68" fill="#0a0af5"/>
<circle cx="66.4" cy="467.5" r="1.68" fill="#0a0af5"/>
<circle cx="112.5" cy="424.0" r="1.68" fill="#0a0af5"/>
<circle cx="93.5" cy="440.3" r="1.68" fill="#0a0af5"/>
<circle cx="90.8" cy="434.9" r="1.68" fill="#0a0af5"/>
<circle cx="74.5" cy="473.0" r="1.68" fill="#0a0af5"/>
<circle cx="117.9" cy="426.7" r="1.68" fill="#0a0af5"/>
<circle cx="96.2" cy="437.6" r="1.68" fill="#0a0af5"/>
<circle cx="166.7" cy="385.9" r="1.68" fill="#0a0af5"/>
<circle cx="155.8" cy="396.8" r="1.68" fill="#0a0af5"/>
<circle cx="115.2" cy="424.0" r="1.68" fill="#0a0af5"/>
<circle cx="153.1" cy="402.2" r="1.68" fill="#0a0af5"/>
<circle cx="90.8" cy="448.5" r="1.68" fill="#0a0af5"/>
<circle cx="85.4" cy="443.0" r="1.68" fill="#0a0af5"/>
<circle cx="155.8" cy="391.4" r="1.68" fill="#0a0af5"/>
<circle cx="136.8" cy="407.7" r="1.68" fill="#0a0af5"/>
<circle cx="139.6" cy="410.4" r="1.68" fill="#0a0af5"/>
<circle cx="77.2" cy="464.8" r="1.68" fill="#0a0af5"/>
<circle cx="115.2" cy="418.6" r="1.68" fill="#0a0af5"/>
<circle cx="123.3" cy="421.3" r="1.68" fill="#0a0af5"/>
<circle cx="104.3" cy="429.4" r="1.68" fill="#0a0af5"/>
<circle cx="71.8" cy="459.4" r="1.68" fill="#0a0af5"/>
<circle cx="120.6" cy="418.6" r="1.68" fill="#0a0af5"/>
<circle cx="182.9" cy="383.2" r="1.68" fill="#0a0af5"/>
<circle cx="139.6" cy="405.0" r="1.68" fill="#0a0af5"/>
<circle cx="126.0" cy="413.1" r="1.68" fill="#0a0af5"/>
<circle cx="128.7" cy="415.8" r="1.68" fill="#0a0af5"/>
<circle cx="90.8" cy="437.6" r="1.68" fill="#0a0af5"/>
<circle cx="142.3" cy="402.2" r="1.68" fill="#0a0af5"/>
<circle cx="131.4" cy="413.1" r="1.68" fill="#0a0af5"/>
<circle cx="109.8" cy="424.0" r="1.68" fill="#0a0af5"/>
<circle cx="161.2" cy="388.6" r="1.68" fill="#0a0af5"/>
<circle cx="82.6" cy="453.9" r="1.68" fill="#0a0af5"/>
<circle cx="120.6" cy="432.2" r="1.68" fill="#0a0af5"/>
<circle cx="85.4" cy="451.2" r="1.68" fill="#0a0af5"/>
<circle cx="134.1" cy="410.4" r="1.68" fill="#0a0af5"/>
<circle cx="74.5" cy="462.1" r="1.68" fill="#0a0af5"/>
<circle cx="98.9" cy="429.4" r="1.68" fill="#0a0af5"/>
<circle cx="85.4" cy="445.8" r="1.68" fill="#0a0af5"/>
<circle cx="155.8" cy="394.1" r="1.68" fill="#0a0af5"/>
<circle cx="88.1" cy="448.5" r="1.68" fill="#0a0af5"/>
<circle cx="104.3" cy="432.2" r="1.68" fill="#0a0af5"/>
<circle cx="107.0" cy="434.9" r="1.68" fill="#0a0af5"/>
<circle cx="93.5" cy="443.0" r="1.68" fill="#0a0af5"/>
<circle cx="109.8" cy="432.2" r="1.68" fill="#0a0af5"/>
<circle cx="139.6" cy="407.7" r="1.68" fill="#0a0af5"/>
<circle cx="145.0" cy="399.5" r="1.68" fill="#0a0af5"/>
<circle cx="107.0" cy="429.4" r="1.68" fill="#0a0af5"/>
<circle cx="117.9" cy="429.4" r="1.68" fill="#0a0af5"/>
<circle cx="131.4" cy="415.8" r="1.68" fill="#0a0af5"/>
<circle cx="98.9" cy="437.6" r="1.68" fill="#0a0af5"/>
<circle cx="150.4" cy="402.2" r="1.68" fill="#0a0af5"/>
<circle cx="147.7" cy="396.8" r="1.68" fill="#0a0af5"/>
<circle cx="82.6" cy="456.6" r="1.68" fill="#0a0af5"/>
<circle cx="128.7" cy="413.1" r="1.68" fill="#0a0af5"/>
<circle cx="117.9" cy="424.0" r="1.68" fill="#0a0af5"/>
<circle cx="136.8" cy="410.4" r="1.68" fill="#0a0af5"/>
<circle cx="123.3" cy="424.0" r="1.68" fill="#0a0af5"/>
<circle cx="101.6" cy="434.9" r="1.68" fill="#0a0af5"/>
<circle cx="153.1" cy="399.5" r="1.68" fill="#0a0af5"/>
<circle cx="112.5" cy="434.9" r="1.68" fill="#0a0af5"/>
<circle cx="93.5" cy="451.2" r="1.68" fill="#0a0af5"/>
<circle cx="117.9" cy="418.6" r="1.68" fill="#0a0af5"/>
<circle cx="120.6" cy="421.3" r="1.68" fill="#0a0af5"/>
<circle cx="88.1" cy="451.2" r="1.68" fill="#0a0af5"/>
<text x="39.75" y="419.7" font-size="8.7" font-weight="bold" text-anchor="middle" fill="#111" stroke="#111" stroke-width="0.3" transform="rotate(-90 39.75 419.7)">EX-test A10</text>
<text x="128" y="509.3" font-size="8.75" font-weight="bold" text-anchor="middle" fill="#111" stroke="#111" stroke-width="0.3">EXTEM A10</text>
<text x="35.0" y="358.1" font-size="10.1" font-weight="bold" text-anchor="start" fill="#111" stroke="#111" stroke-width="0.2">[mm]</text>
<text x="186.5" y="495.2" font-size="10.1" font-weight="bold" text-anchor="start" fill="#111" stroke="#111" stroke-width="0.2">[mm]</text>
<text x="190.5" y="476.7" font-size="10.7" font-weight="normal" text-anchor="end" fill="#222" stroke="#222" stroke-width="0.15">r = 0.97</text>
<text x="1.2" y="361.3" font-size="13.7" font-weight="bold" text-anchor="start" fill="#111" stroke="#111" stroke-width="0.2">(C)</text>
<line x1="265.4" y1="356.0" x2="265.4" y2="484.65" stroke="#111" stroke-width="1.35"/>
<line x1="264.75" y1="484.0" x2="392.7" y2="484.0" stroke="#444" stroke-width="1.8"/>
<line x1="260.79999999999995" y1="356.0" x2="265.4" y2="356.0" stroke="#111" stroke-width="1.2"/>
<text x="258.0" y="359.0" font-size="8.3" font-weight="bold" text-anchor="end" fill="#111" stroke="#111" stroke-width="0.3">25</text>
<line x1="260.79999999999995" y1="372.0" x2="265.4" y2="372.0" stroke="#111" stroke-width="1.2"/>
<text x="258.0" y="375.0" font-size="8.3" font-weight="bold" text-anchor="end" fill="#111" stroke="#111" stroke-width="0.3">20</text>
<line x1="260.79999999999995" y1="388.0" x2="265.4" y2="388.0" stroke="#111" stroke-width="1.2"/>
<text x="258.0" y="391.0" font-size="8.3" font-weight="bold" text-anchor="end" fill="#111" stroke="#111" stroke-width="0.3">15</text>
<line x1="260.79999999999995" y1="404.0" x2="265.4" y2="404.0" stroke="#111" stroke-width="1.2"/>
<text x="258.0" y="407.0" font-size="8.3" font-weight="bold" text-anchor="end" fill="#111" stroke="#111" stroke-width="0.3">10</text>
<line x1="260.79999999999995" y1="420.0" x2="265.4" y2="420.0" stroke="#111" stroke-width="1.2"/>
<text x="258.0" y="423.0" font-size="8.3" font-weight="bold" text-anchor="end" fill="#111" stroke="#111" stroke-width="0.3">5</text>
<line x1="260.79999999999995" y1="436.0" x2="265.4" y2="436.0" stroke="#111" stroke-width="1.2"/>
<text x="258.0" y="439.0" font-size="8.3" font-weight="bold" text-anchor="end" fill="#111" stroke="#111" stroke-width="0.3">0</text>
<line x1="260.79999999999995" y1="452.0" x2="265.4" y2="452.0" stroke="#111" stroke-width="1.2"/>
<text x="258.0" y="455.0" font-size="8.3" font-weight="bold" text-anchor="end" fill="#111" stroke="#111" stroke-width="0.3">-5</text>
<line x1="260.79999999999995" y1="468.0" x2="265.4" y2="468.0" stroke="#111" stroke-width="1.2"/>
<text x="258.0" y="471.0" font-size="8.3" font-weight="bold" text-anchor="end" fill="#111" stroke="#111" stroke-width="0.3">-10</text>
<line x1="260.79999999999995" y1="484.0" x2="265.4" y2="484.0" stroke="#111" stroke-width="1.2"/>
<text x="258.0" y="487.0" font-size="8.3" font-weight="bold" text-anchor="end" fill="#111" stroke="#111" stroke-width="0.3">-15</text>
<line x1="265.4" y1="484.0" x2="265.4" y2="488.7" stroke="#111" stroke-width="1.2"/>
<text x="265.4" y="496.5" font-size="8.3" font-weight="bold" text-anchor="middle" fill="#111" stroke="#111" stroke-width="0.3">30</text>
<line x1="291.5" y1="484.0" x2="291.5" y2="488.7" stroke="#111" stroke-width="1.2"/>
<text x="291.5" y="496.5" font-size="8.3" font-weight="bold" text-anchor="middle" fill="#111" stroke="#111" stroke-width="0.3">40</text>
<line x1="317.3" y1="484.0" x2="317.3" y2="488.7" stroke="#111" stroke-width="1.2"/>
<text x="317.3" y="496.5" font-size="8.3" font-weight="bold" text-anchor="middle" fill="#111" stroke="#111" stroke-width="0.3">50</text>
<line x1="343.6" y1="484.0" x2="343.6" y2="488.7" stroke="#111" stroke-width="1.2"/>
<text x="343.6" y="496.5" font-size="8.3" font-weight="bold" text-anchor="middle" fill="#111" stroke="#111" stroke-width="0.3">60</text>
<line x1="369.6" y1="484.0" x2="369.6" y2="488.7" stroke="#111" stroke-width="1.2"/>
<text x="369.6" y="496.5" font-size="8.3" font-weight="bold" text-anchor="middle" fill="#111" stroke="#111" stroke-width="0.3">70</text>
<line x1="266.29999999999995" y1="412.0" x2="392.2" y2="412.0" stroke="#444" stroke-width="1.6" stroke-dasharray="0.85 0.98"/>
<line x1="265.9" y1="428.4" x2="393.4" y2="428.4" stroke="#666" stroke-width="0.75"/>
<line x1="266.29999999999995" y1="444.8" x2="392.2" y2="444.8" stroke="#444" stroke-width="1.5" stroke-dasharray="0.85 0.98"/>
<circle cx="275.6" cy="423.1" r="1.68" fill="#0a0af5"/>
<circle cx="304.3" cy="423.1" r="1.68" fill="#0a0af5"/>
<circle cx="338.3" cy="442.3" r="1.68" fill="#0a0af5"/>
<circle cx="305.7" cy="426.3" r="1.68" fill="#0a0af5"/>
<circle cx="317.4" cy="416.8" r="1.68" fill="#0a0af5"/>
<circle cx="296.5" cy="410.3" r="1.68" fill="#0a0af5"/>
<circle cx="307.0" cy="429.6" r="1.68" fill="#0a0af5"/>
<circle cx="303.0" cy="413.6" r="1.68" fill="#0a0af5"/>
<circle cx="313.5" cy="432.8" r="1.68" fill="#0a0af5"/>
<circle cx="342.2" cy="432.8" r="1.68" fill="#0a0af5"/>
<circle cx="275.6" cy="416.8" r="1.68" fill="#0a0af5"/>
<circle cx="338.3" cy="435.9" r="1.68" fill="#0a0af5"/>
<circle cx="305.7" cy="419.9" r="1.68" fill="#0a0af5"/>
<circle cx="318.7" cy="432.8" r="1.68" fill="#0a0af5"/>
<circle cx="347.4" cy="439.1" r="1.68" fill="#0a0af5"/>
<circle cx="307.0" cy="423.1" r="1.68" fill="#0a0af5"/>
<circle cx="312.2" cy="442.3" r="1.68" fill="#0a0af5"/>
<circle cx="313.5" cy="426.3" r="1.68" fill="#0a0af5"/>
<circle cx="288.7" cy="423.1" r="1.68" fill="#0a0af5"/>
<circle cx="352.6" cy="439.1" r="1.68" fill="#0a0af5"/>
<circle cx="325.2" cy="435.9" r="1.68" fill="#0a0af5"/>
<circle cx="334.4" cy="432.8" r="1.68" fill="#0a0af5"/>
<circle cx="329.1" cy="432.8" r="1.68" fill="#0a0af5"/>
<circle cx="283.5" cy="423.1" r="1.68" fill="#0a0af5"/>
<circle cx="309.6" cy="429.6" r="1.68" fill="#0a0af5"/>
<circle cx="346.1" cy="442.3" r="1.68" fill="#0a0af5"/>
<circle cx="293.9" cy="423.1" r="1.68" fill="#0a0af5"/>
<circle cx="320.0" cy="429.6" r="1.68" fill="#0a0af5"/>
<circle cx="322.6" cy="423.1" r="1.68" fill="#0a0af5"/>
<circle cx="356.5" cy="442.3" r="1.68" fill="#0a0af5"/>
<circle cx="297.8" cy="419.9" r="1.68" fill="#0a0af5"/>
<circle cx="323.9" cy="426.3" r="1.68" fill="#0a0af5"/>
<circle cx="314.8" cy="429.6" r="1.68" fill="#0a0af5"/>
<circle cx="312.2" cy="435.9" r="1.68" fill="#0a0af5"/>
<circle cx="288.7" cy="416.8" r="1.68" fill="#0a0af5"/>
<circle cx="325.2" cy="429.6" r="1.68" fill="#0a0af5"/>
<circle cx="290.0" cy="419.9" r="1.68" fill="#0a0af5"/>
<circle cx="331.8" cy="432.8" r="1.68" fill="#0a0af5"/>
<circle cx="317.4" cy="435.9" r="1.68" fill="#0a0af5"/>
<circle cx="343.5" cy="442.3" r="1.68" fill="#0a0af5"/>
<circle cx="287.4" cy="426.3" r="1.68" fill="#0a0af5"/>
<circle cx="282.2" cy="426.3" r="1.68" fill="#0a0af5"/>
<circle cx="293.9" cy="416.8" r="1.68" fill="#0a0af5"/>
<circle cx="270.4" cy="435.9" r="1.68" fill="#0a0af5"/>
<circle cx="295.2" cy="419.9" r="1.68" fill="#0a0af5"/>
<circle cx="337.0" cy="432.8" r="1.68" fill="#0a0af5"/>
<circle cx="286.1" cy="423.1" r="1.68" fill="#0a0af5"/>
<circle cx="279.6" cy="413.6" r="1.68" fill="#0a0af5"/>
<circle cx="290.0" cy="432.8" r="1.68" fill="#0a0af5"/>
<circle cx="333.1" cy="435.9" r="1.68" fill="#0a0af5"/>
<circle cx="290.0" cy="413.6" r="1.68" fill="#0a0af5"/>
<circle cx="317.4" cy="429.6" r="1.68" fill="#0a0af5"/>
<circle cx="310.9" cy="419.9" r="1.68" fill="#0a0af5"/>
<circle cx="323.9" cy="432.8" r="1.68" fill="#0a0af5"/>
<circle cx="301.7" cy="423.1" r="1.68" fill="#0a0af5"/>
<circle cx="295.2" cy="413.6" r="1.68" fill="#0a0af5"/>
<circle cx="335.7" cy="442.3" r="1.68" fill="#0a0af5"/>
<circle cx="303.0" cy="426.3" r="1.68" fill="#0a0af5"/>
<circle cx="342.2" cy="445.6" r="1.68" fill="#0a0af5"/>
<circle cx="312.2" cy="423.1" r="1.68" fill="#0a0af5"/>
<circle cx="348.7" cy="435.9" r="1.68" fill="#0a0af5"/>
<circle cx="290.0" cy="426.3" r="1.68" fill="#0a0af5"/>
<circle cx="316.1" cy="419.9" r="1.68" fill="#0a0af5"/>
<circle cx="275.6" cy="429.6" r="1.68" fill="#0a0af5"/>
<circle cx="304.3" cy="429.6" r="1.68" fill="#0a0af5"/>
<circle cx="333.1" cy="429.6" r="1.68" fill="#0a0af5"/>
<circle cx="330.4" cy="435.9" r="1.68" fill="#0a0af5"/>
<circle cx="269.1" cy="419.9" r="1.68" fill="#0a0af5"/>
<circle cx="340.9" cy="442.3" r="1.68" fill="#0a0af5"/>
<circle cx="339.6" cy="432.8" r="1.68" fill="#0a0af5"/>
<circle cx="304.3" cy="410.3" r="1.68" fill="#0a0af5"/>
<circle cx="317.4" cy="423.1" r="1.68" fill="#0a0af5"/>
<circle cx="318.7" cy="426.3" r="1.68" fill="#0a0af5"/>
<circle cx="299.1" cy="423.1" r="1.68" fill="#0a0af5"/>
<circle cx="365.7" cy="458.3" r="1.68" fill="#0a0af5"/>
<circle cx="307.0" cy="435.9" r="1.68" fill="#0a0af5"/>
<circle cx="326.5" cy="432.8" r="1.68" fill="#0a0af5"/>
<circle cx="331.8" cy="439.1" r="1.68" fill="#0a0af5"/>
<text x="239" y="419.9" font-size="8.7" font-weight="bold" text-anchor="middle" fill="#111" stroke="#111" stroke-width="0.3" transform="rotate(-90 239 419.9)">EX-test A10 - EXTEM A10</text>
<text x="329.3" y="510.2" font-size="8.8" font-weight="bold" text-anchor="middle" fill="#111" stroke="#111" stroke-width="0.3">Mean of EX-test A10 and EXTEM A10</text>
<text x="221" y="358.5" font-size="10.1" font-weight="bold" text-anchor="start" fill="#111" stroke="#111" stroke-width="0.2">[mm]</text>
<text x="389.1" y="495.7" font-size="10.1" font-weight="bold" text-anchor="start" fill="#111" stroke="#111" stroke-width="0.2">[mm]</text>
<text x="392.7" y="476.7" font-size="10.35" font-weight="normal" text-anchor="end" fill="#222" stroke="#222" stroke-width="0.15">bias = 2.4</text>
<line x1="63.5" y1="528.0" x2="63.5" y2="656.85" stroke="#111" stroke-width="1.35"/>
<line x1="62.85" y1="656.2" x2="191.2" y2="656.2" stroke="#111" stroke-width="1.35"/>
<line x1="58.9" y1="556.4" x2="63.5" y2="556.4" stroke="#111" stroke-width="1.2"/>
<text x="57.4" y="559.4" font-size="8.3" font-weight="bold" text-anchor="end" fill="#111" stroke="#111" stroke-width="0.3">70</text>
<line x1="58.9" y1="587.5" x2="63.5" y2="587.5" stroke="#111" stroke-width="1.2"/>
<text x="57.4" y="590.5" font-size="8.3" font-weight="bold" text-anchor="end" fill="#111" stroke="#111" stroke-width="0.3">60</text>
<line x1="58.9" y1="618.6" x2="63.5" y2="618.6" stroke="#111" stroke-width="1.2"/>
<text x="57.4" y="621.6" font-size="8.3" font-weight="bold" text-anchor="end" fill="#111" stroke="#111" stroke-width="0.3">50</text>
<line x1="58.9" y1="649.8" x2="63.5" y2="649.8" stroke="#111" stroke-width="1.2"/>
<text x="57.4" y="652.8" font-size="8.3" font-weight="bold" text-anchor="end" fill="#111" stroke="#111" stroke-width="0.3">40</text>
<line x1="69.9" y1="656.2" x2="69.9" y2="660.9000000000001" stroke="#111" stroke-width="1.2"/>
<text x="69.9" y="669.8" font-size="8.3" font-weight="bold" text-anchor="middle" fill="#111" stroke="#111" stroke-width="0.3">40</text>
<line x1="101.0" y1="656.2" x2="101.0" y2="660.9000000000001" stroke="#111" stroke-width="1.2"/>
<text x="101.0" y="669.8" font-size="8.3" font-weight="bold" text-anchor="middle" fill="#111" stroke="#111" stroke-width="0.3">50</text>
<line x1="132.1" y1="656.2" x2="132.1" y2="660.9000000000001" stroke="#111" stroke-width="1.2"/>
<text x="132.1" y="669.8" font-size="8.3" font-weight="bold" text-anchor="middle" fill="#111" stroke="#111" stroke-width="0.3">60</text>
<line x1="163.2" y1="656.2" x2="163.2" y2="660.9000000000001" stroke="#111" stroke-width="1.2"/>
<text x="163.2" y="669.8" font-size="8.3" font-weight="bold" text-anchor="middle" fill="#111" stroke="#111" stroke-width="0.3">70</text>
<line x1="69.8" y1="643.3" x2="182.4" y2="554.4" stroke="#222" stroke-width="0.75"/>
<circle cx="125.9" cy="600.0" r="1.68" fill="#0a0af5"/>
<circle cx="101.0" cy="612.5" r="1.68" fill="#0a0af5"/>
<circle cx="135.2" cy="593.8" r="1.68" fill="#0a0af5"/>
<circle cx="160.1" cy="572.0" r="1.68" fill="#0a0af5"/>
<circle cx="129.0" cy="593.8" r="1.68" fill="#0a0af5"/>
<circle cx="82.3" cy="634.2" r="1.68" fill="#0a0af5"/>
<circle cx="107.2" cy="612.5" r="1.68" fill="#0a0af5"/>
<circle cx="104.1" cy="618.7" r="1.68" fill="#0a0af5"/>
<circle cx="88.6" cy="624.9" r="1.68" fill="#0a0af5"/>
<circle cx="69.9" cy="637.4" r="1.68" fill="#0a0af5"/>
<circle cx="147.7" cy="584.5" r="1.68" fill="#0a0af5"/>
<circle cx="122.8" cy="606.3" r="1.68" fill="#0a0af5"/>
<circle cx="69.9" cy="646.7" r="1.68" fill="#0a0af5"/>
<circle cx="94.8" cy="624.9" r="1.68" fill="#0a0af5"/>
<circle cx="141.4" cy="581.4" r="1.68" fill="#0a0af5"/>
<circle cx="110.3" cy="609.4" r="1.68" fill="#0a0af5"/>
<circle cx="113.4" cy="612.5" r="1.68" fill="#0a0af5"/>
<circle cx="141.4" cy="584.5" r="1.68" fill="#0a0af5"/>
<circle cx="138.3" cy="590.7" r="1.68" fill="#0a0af5"/>
<circle cx="116.6" cy="609.4" r="1.68" fill="#0a0af5"/>
<circle cx="113.4" cy="603.1" r="1.68" fill="#0a0af5"/>
<circle cx="119.7" cy="603.1" r="1.68" fill="#0a0af5"/>
<circle cx="73.0" cy="643.6" r="1.68" fill="#0a0af5"/>
<circle cx="125.9" cy="593.8" r="1.68" fill="#0a0af5"/>
<circle cx="129.0" cy="596.9" r="1.68" fill="#0a0af5"/>
<circle cx="153.9" cy="575.2" r="1.68" fill="#0a0af5"/>
<circle cx="104.1" cy="621.8" r="1.68" fill="#0a0af5"/>
<circle cx="82.3" cy="646.7" r="1.68" fill="#0a0af5"/>
<circle cx="132.1" cy="593.8" r="1.68" fill="#0a0af5"/>
<circle cx="163.2" cy="568.9" r="1.68" fill="#0a0af5"/>
<circle cx="104.1" cy="612.5" r="1.68" fill="#0a0af5"/>
<circle cx="160.1" cy="575.2" r="1.68" fill="#0a0af5"/>
<circle cx="97.9" cy="621.8" r="1.68" fill="#0a0af5"/>
<circle cx="94.8" cy="628.0" r="1.68" fill="#0a0af5"/>
<circle cx="94.8" cy="618.7" r="1.68" fill="#0a0af5"/>
<circle cx="157.0" cy="572.0" r="1.68" fill="#0a0af5"/>
<circle cx="157.0" cy="581.4" r="1.68" fill="#0a0af5"/>
<circle cx="181.9" cy="559.6" r="1.68" fill="#0a0af5"/>
<circle cx="113.4" cy="606.3" r="1.68" fill="#0a0af5"/>
<circle cx="110.3" cy="612.5" r="1.68" fill="#0a0af5"/>
<circle cx="141.4" cy="587.6" r="1.68" fill="#0a0af5"/>
<circle cx="113.4" cy="596.9" r="1.68" fill="#0a0af5"/>
<circle cx="110.3" cy="603.1" r="1.68" fill="#0a0af5"/>
<circle cx="144.5" cy="584.5" r="1.68" fill="#0a0af5"/>
<circle cx="129.0" cy="600.0" r="1.68" fill="#0a0af5"/>
<circle cx="169.4" cy="565.8" r="1.68" fill="#0a0af5"/>
<circle cx="101.0" cy="618.7" r="1.68" fill="#0a0af5"/>
<circle cx="79.2" cy="637.4" r="1.68" fill="#0a0af5"/>
<circle cx="104.1" cy="615.6" r="1.68" fill="#0a0af5"/>
<circle cx="82.3" cy="640.5" r="1.68" fill="#0a0af5"/>
<circle cx="135.2" cy="590.7" r="1.68" fill="#0a0af5"/>
<circle cx="88.6" cy="631.1" r="1.68" fill="#0a0af5"/>
<circle cx="94.8" cy="621.8" r="1.68" fill="#0a0af5"/>
<circle cx="97.9" cy="624.9" r="1.68" fill="#0a0af5"/>
<circle cx="122.8" cy="603.1" r="1.68" fill="#0a0af5"/>
<circle cx="147.7" cy="581.4" r="1.68" fill="#0a0af5"/>
<circle cx="97.9" cy="615.6" r="1.68" fill="#0a0af5"/>
<circle cx="157.0" cy="575.2" r="1.68" fill="#0a0af5"/>
<circle cx="113.4" cy="618.7" r="1.68" fill="#0a0af5"/>
<circle cx="141.4" cy="590.7" r="1.68" fill="#0a0af5"/>
<circle cx="110.3" cy="606.3" r="1.68" fill="#0a0af5"/>
<circle cx="144.5" cy="587.6" r="1.68" fill="#0a0af5"/>
<circle cx="113.4" cy="609.4" r="1.68" fill="#0a0af5"/>
<circle cx="138.3" cy="587.6" r="1.68" fill="#0a0af5"/>
<circle cx="119.7" cy="600.0" r="1.68" fill="#0a0af5"/>
<circle cx="125.9" cy="609.4" r="1.68" fill="#0a0af5"/>
<text x="39.75" y="591.8" font-size="8.7" font-weight="bold" text-anchor="middle" fill="#111" stroke="#111" stroke-width="0.3" transform="rotate(-90 39.75 591.8)">EX-test MCF</text>
<text x="128" y="681.7" font-size="8.75" font-weight="bold" text-anchor="middle" fill="#111" stroke="#111" stroke-width="0.3">EXTEM MCF</text>
<text x="35.0" y="530.5" font-size="10.1" font-weight="bold" text-anchor="start" fill="#111" stroke="#111" stroke-width="0.2">[mm]</text>
<text x="186.5" y="667.8" font-size="10.1" font-weight="bold" text-anchor="start" fill="#111" stroke="#111" stroke-width="0.2">[mm]</text>
<text x="190.5" y="648.9" font-size="10.7" font-weight="normal" text-anchor="end" fill="#222" stroke="#222" stroke-width="0.15">r = 0.98</text>
<text x="1.2" y="533.3" font-size="13.7" font-weight="bold" text-anchor="start" fill="#111" stroke="#111" stroke-width="0.2">(D)</text>
<line x1="265.4" y1="528.3" x2="265.4" y2="657.0" stroke="#111" stroke-width="1.35"/>
<line x1="264.75" y1="656.35" x2="393.0" y2="656.35" stroke="#111" stroke-width="1.35"/>
<line x1="260.79999999999995" y1="528.3" x2="265.4" y2="528.3" stroke="#111" stroke-width="1.2"/>
<text x="259.0" y="531.3" font-size="8.3" font-weight="bold" text-anchor="end" fill="#111" stroke="#111" stroke-width="0.3">20</text>
<line x1="260.79999999999995" y1="544.3" x2="265.4" y2="544.3" stroke="#111" stroke-width="1.2"/>
<text x="259.0" y="547.3" font-size="8.3" font-weight="bold" text-anchor="end" fill="#111" stroke="#111" stroke-width="0.3">15</text>
<line x1="260.79999999999995" y1="560.1" x2="265.4" y2="560.1" stroke="#111" stroke-width="1.2"/>
<text x="259.0" y="563.1" font-size="8.3" font-weight="bold" text-anchor="end" fill="#111" stroke="#111" stroke-width="0.3">10</text>
<line x1="260.79999999999995" y1="576.4" x2="265.4" y2="576.4" stroke="#111" stroke-width="1.2"/>
<text x="259.0" y="579.4" font-size="8.3" font-weight="bold" text-anchor="end" fill="#111" stroke="#111" stroke-width="0.3">5</text>
<line x1="260.79999999999995" y1="592.2" x2="265.4" y2="592.2" stroke="#111" stroke-width="1.2"/>
<text x="259.0" y="595.2" font-size="8.3" font-weight="bold" text-anchor="end" fill="#111" stroke="#111" stroke-width="0.3">0</text>
<line x1="260.79999999999995" y1="608.3" x2="265.4" y2="608.3" stroke="#111" stroke-width="1.2"/>
<text x="259.0" y="611.3" font-size="8.3" font-weight="bold" text-anchor="end" fill="#111" stroke="#111" stroke-width="0.3">-5</text>
<line x1="260.79999999999995" y1="624.3" x2="265.4" y2="624.3" stroke="#111" stroke-width="1.2"/>
<text x="259.0" y="627.3" font-size="8.3" font-weight="bold" text-anchor="end" fill="#111" stroke="#111" stroke-width="0.3">-10</text>
<line x1="260.79999999999995" y1="640.4" x2="265.4" y2="640.4" stroke="#111" stroke-width="1.2"/>
<text x="259.0" y="643.4" font-size="8.3" font-weight="bold" text-anchor="end" fill="#111" stroke="#111" stroke-width="0.3">-15</text>
<line x1="260.79999999999995" y1="656.4" x2="265.4" y2="656.4" stroke="#111" stroke-width="1.2"/>
<text x="259.0" y="659.4" font-size="8.3" font-weight="bold" text-anchor="end" fill="#111" stroke="#111" stroke-width="0.3">-20</text>
<line x1="265.4" y1="656.35" x2="265.4" y2="661.0500000000001" stroke="#111" stroke-width="1.2"/>
<text x="265.4" y="669.6" font-size="8.3" font-weight="bold" text-anchor="middle" fill="#111" stroke="#111" stroke-width="0.3">40</text>
<line x1="298.1" y1="656.35" x2="298.1" y2="661.0500000000001" stroke="#111" stroke-width="1.2"/>
<text x="298.1" y="669.6" font-size="8.3" font-weight="bold" text-anchor="middle" fill="#111" stroke="#111" stroke-width="0.3">50</text>
<line x1="330.9" y1="656.35" x2="330.9" y2="661.0500000000001" stroke="#111" stroke-width="1.2"/>
<text x="330.9" y="669.6" font-size="8.3" font-weight="bold" text-anchor="middle" fill="#111" stroke="#111" stroke-width="0.3">60</text>
<line x1="363.5" y1="656.35" x2="363.5" y2="661.0500000000001" stroke="#111" stroke-width="1.2"/>
<text x="363.5" y="669.6" font-size="8.3" font-weight="bold" text-anchor="middle" fill="#111" stroke="#111" stroke-width="0.3">70</text>
<line x1="266.29999999999995" y1="584.0" x2="392.2" y2="584.0" stroke="#444" stroke-width="1.6" stroke-dasharray="0.85 0.98"/>
<line x1="265.9" y1="596.6" x2="393.4" y2="596.6" stroke="#777" stroke-width="0.8"/>
<line x1="266.29999999999995" y1="609.4" x2="392.2" y2="609.4" stroke="#111" stroke-width="1.1" stroke-dasharray="0.85 0.98"/>
<circle cx="309.8" cy="595.4" r="1.68" fill="#0a0af5"/>
<circle cx="316.3" cy="608.2" r="1.68" fill="#0a0af5"/>
<circle cx="324.5" cy="598.6" r="1.68" fill="#0a0af5"/>
<circle cx="332.7" cy="601.8" r="1.68" fill="#0a0af5"/>
<circle cx="304.9" cy="592.2" r="1.68" fill="#0a0af5"/>
<circle cx="350.7" cy="605.0" r="1.68" fill="#0a0af5"/>
<circle cx="280.3" cy="589.0" r="1.68" fill="#0a0af5"/>
<circle cx="293.4" cy="589.0" r="1.68" fill="#0a0af5"/>
<circle cx="293.4" cy="595.4" r="1.68" fill="#0a0af5"/>
<circle cx="339.2" cy="601.8" r="1.68" fill="#0a0af5"/>
<circle cx="311.4" cy="592.2" r="1.68" fill="#0a0af5"/>
<circle cx="308.1" cy="598.6" r="1.68" fill="#0a0af5"/>
<circle cx="316.3" cy="601.8" r="1.68" fill="#0a0af5"/>
<circle cx="324.5" cy="592.2" r="1.68" fill="#0a0af5"/>
<circle cx="334.3" cy="605.0" r="1.68" fill="#0a0af5"/>
<circle cx="273.8" cy="601.8" r="1.68" fill="#0a0af5"/>
<circle cx="272.1" cy="579.4" r="1.68" fill="#0a0af5"/>
<circle cx="301.6" cy="592.2" r="1.68" fill="#0a0af5"/>
<circle cx="300.0" cy="595.4" r="1.68" fill="#0a0af5"/>
<circle cx="277.1" cy="589.0" r="1.68" fill="#0a0af5"/>
<circle cx="277.1" cy="595.4" r="1.68" fill="#0a0af5"/>
<circle cx="322.9" cy="601.8" r="1.68" fill="#0a0af5"/>
<circle cx="295.0" cy="592.2" r="1.68" fill="#0a0af5"/>
<circle cx="340.9" cy="605.0" r="1.68" fill="#0a0af5"/>
<circle cx="311.4" cy="585.8" r="1.68" fill="#0a0af5"/>
<circle cx="308.1" cy="592.2" r="1.68" fill="#0a0af5"/>
<circle cx="353.9" cy="605.0" r="1.68" fill="#0a0af5"/>
<circle cx="313.0" cy="589.0" r="1.68" fill="#0a0af5"/>
<circle cx="288.5" cy="585.8" r="1.68" fill="#0a0af5"/>
<circle cx="362.1" cy="608.2" r="1.68" fill="#0a0af5"/>
<circle cx="298.3" cy="598.6" r="1.68" fill="#0a0af5"/>
<circle cx="334.3" cy="598.6" r="1.68" fill="#0a0af5"/>
<circle cx="301.6" cy="585.8" r="1.68" fill="#0a0af5"/>
<circle cx="295.0" cy="585.8" r="1.68" fill="#0a0af5"/>
<circle cx="291.8" cy="592.2" r="1.68" fill="#0a0af5"/>
<circle cx="337.6" cy="605.0" r="1.68" fill="#0a0af5"/>
<circle cx="267.2" cy="589.0" r="1.68" fill="#0a0af5"/>
<circle cx="339.2" cy="595.4" r="1.68" fill="#0a0af5"/>
<circle cx="318.0" cy="598.6" r="1.68" fill="#0a0af5"/>
<circle cx="298.3" cy="592.2" r="1.68" fill="#0a0af5"/>
<circle cx="331.0" cy="598.6" r="1.68" fill="#0a0af5"/>
<circle cx="347.4" cy="611.4" r="1.68" fill="#0a0af5"/>
<circle cx="352.3" cy="608.2" r="1.68" fill="#0a0af5"/>
<circle cx="357.2" cy="605.0" r="1.68" fill="#0a0af5"/>
<circle cx="337.6" cy="598.6" r="1.68" fill="#0a0af5"/>
<circle cx="318.0" cy="592.2" r="1.68" fill="#0a0af5"/>
<circle cx="316.3" cy="582.6" r="1.68" fill="#0a0af5"/>
<circle cx="298.3" cy="585.8" r="1.68" fill="#0a0af5"/>
<circle cx="304.9" cy="605.0" r="1.68" fill="#0a0af5"/>
<circle cx="270.5" cy="589.0" r="1.68" fill="#0a0af5"/>
<circle cx="306.5" cy="595.4" r="1.68" fill="#0a0af5"/>
<circle cx="352.3" cy="601.8" r="1.68" fill="#0a0af5"/>
<circle cx="321.2" cy="598.6" r="1.68" fill="#0a0af5"/>
<circle cx="329.4" cy="601.8" r="1.68" fill="#0a0af5"/>
<circle cx="327.8" cy="598.6" r="1.68" fill="#0a0af5"/>
<circle cx="290.1" cy="595.4" r="1.68" fill="#0a0af5"/>
<circle cx="335.9" cy="601.8" r="1.68" fill="#0a0af5"/>
<circle cx="326.1" cy="595.4" r="1.68" fill="#0a0af5"/>
<circle cx="303.2" cy="589.0" r="1.68" fill="#0a0af5"/>
<circle cx="349.0" cy="601.8" r="1.68" fill="#0a0af5"/>
<circle cx="285.2" cy="592.2" r="1.68" fill="#0a0af5"/>
<circle cx="342.5" cy="601.8" r="1.68" fill="#0a0af5"/>
<circle cx="371.9" cy="614.6" r="1.68" fill="#0a0af5"/>
<circle cx="311.4" cy="598.6" r="1.68" fill="#0a0af5"/>
<circle cx="309.8" cy="589.0" r="1.68" fill="#0a0af5"/>
<circle cx="316.3" cy="595.4" r="1.68" fill="#0a0af5"/>
<text x="240.6" y="592" font-size="8.7" font-weight="bold" text-anchor="middle" fill="#111" stroke="#111" stroke-width="0.3" transform="rotate(-90 240.6 592)">EX-test MCF - EXTEM MCF</text>
<text x="329.3" y="680.6" font-size="8.8" font-weight="bold" text-anchor="middle" fill="#111" stroke="#111" stroke-width="0.3">Mean of EX-test MCF and EXTEM MCF</text>
<text x="221" y="530.5" font-size="10.1" font-weight="bold" text-anchor="start" fill="#111" stroke="#111" stroke-width="0.2">[mm]</text>
<text x="389.1" y="668.7" font-size="10.1" font-weight="bold" text-anchor="start" fill="#111" stroke="#111" stroke-width="0.2">[mm]</text>
<text x="395.3" y="648.9" font-size="10.3" font-weight="normal" text-anchor="end" fill="#222" stroke="#222" stroke-width="0.15">bias = -1.4</text>
</svg>
</body></html>
